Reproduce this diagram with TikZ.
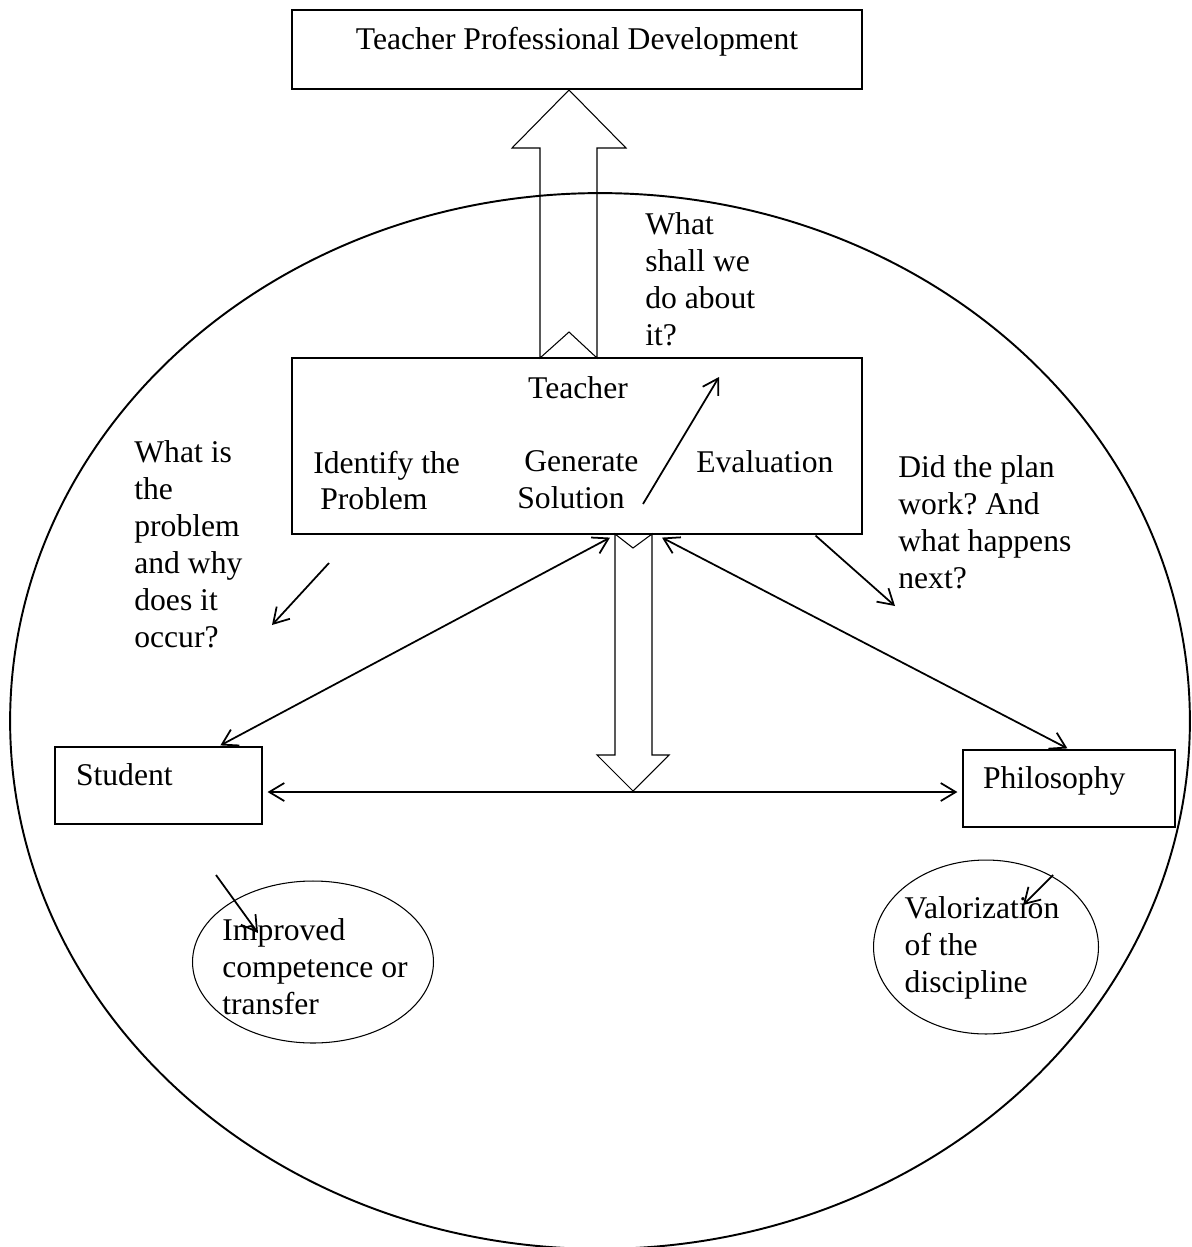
\documentclass[tikz,border=0pt]{standalone}
\usepackage{fontspec}
\setmainfont{Liberation Serif}
\usetikzlibrary{shapes.geometric, arrows.meta, calc}
\frenchspacing

\begin{document}
\begin{tikzpicture}[
  x=0.02cm, y=-0.02cm,
  font=\fontsize{18}{21}\selectfont,
  >={Straight Barb[length=3mm, width=3.6mm]},
  box/.style={rectangle, draw=black, line width=0.7pt, inner sep=0pt},
  labelled/.style={box, text height=12pt, text depth=12pt},
  txt/.style={inner sep=0pt, align=left},
  link/.style={line width=1pt},
  fat/.style={draw=black, line width=0.6pt},
  oval/.style={ellipse, draw=black, line width=0.6pt, inner sep=0pt},
]

\useasboundingbox (0,0) rectangle (1192,1247);

% Outer ring
\node[oval, line width=1.1pt, minimum width=23.6cm, minimum height=21.12cm] (ring) at (600,721) {};

% Top box
\node[labelled, minimum width=11.4cm, minimum height=1.58cm] (tpd) at (577,49.5)
  {Teacher Professional Development};

% Teacher box and its texts
\node[box, minimum width=11.4cm, minimum height=3.52cm] (teacher) at (577,446) {};
\node[anchor=base, inner sep=0pt]    (tlabel)     at (578,398) {Teacher};
\node[txt, anchor=north west]        (identify)   at (313,450.4)
  {Identify the\\\hspace*{0.14cm}Problem};
\node[txt, anchor=north west]        (generate)   at (517,450.4)
  {\hspace*{0.14cm}Generate\\Solution};
\node[anchor=base west, inner sep=0pt] (evaluation) at (696,472) {Evaluation};

% Student and philosophy
\node[labelled, minimum width=4.14cm, minimum height=1.54cm,
      text width=3.30cm, align=left] (student) at (158.5,785.5) {Student};
\node[labelled, minimum width=4.24cm, minimum height=1.54cm,
      text width=3.44cm, align=left] (philo)   at (1069,788.5)  {Philosophy};

% Outcomes
\node[oval, minimum width=4.82cm, minimum height=3.24cm] (impring) at (313,962) {};
\node[txt] (improved) at (315,967) {Improved\\competence or\\transfer};
\node[oval, minimum width=4.5cm, minimum height=3.48cm]  (valring) at (986,947) {};
\node[txt] (valor) at (982,948) {Valorization\\of the\\discipline};

% Questions
\node[txt, anchor=north west] (whatis) at (134,440.4)
  {What is\\the\\problem\\and why\\does it\\occur?};
\node[txt, anchor=north west] (shall)  at (645,212.4)
  {What\\shall we\\do about\\it?};
\node[txt, anchor=north west] (didplan) at (898,455.4)
  {Did the plan\\work? And\\what happens\\next?};

% Block arrows
\draw[fat] (540,358) -- (540,148) -- (512,148) -- (569,90) -- (626,148)
  -- (597,148) -- (597,358) -- (569,332) -- cycle;
\draw[fat] (615,534) -- (615,755) -- (597,755) -- (633,791) -- (669,755)
  -- (652,755) -- (652,534) -- (633,548) -- cycle;

% Links
\draw[link, <->] ($(teacher.south)+(33,3)$) -- ($(student.north west)+(166,-1)$);
\draw[link, <->] ($(teacher.south)+(85,3)$) -- ($(philo.north west)+(105,-1)$);
\coordinate (hl) at ($(student.east)+(5,6.5)$);
\coordinate (hr) at ($(hl -| philo.west)+(-5,0)$);
\draw[link, <->] (hl) -- (hr);

% Small arrows
\coordinate (solve) at (643,504);
\coordinate (act)   at (719,377);
\draw[link, ->] (solve) -- (act);
\coordinate (whyfrom) at (329,563);
\coordinate (whyto)   at (272,625);
\draw[link, ->] (whyfrom) -- (whyto);
\coordinate (nextto) at (895,606);
\draw[link, ->] ($(teacher.south east)+(-47,1)$) -- (nextto);
\coordinate (impfrom) at (216,875);
\coordinate (impto)   at (258,933);
\draw[link, ->] (impfrom) -- (impto);
\coordinate (valfrom) at (1053,875);
\coordinate (valto)   at (1023,905);
\draw[link, ->] (valfrom) -- (valto);

\end{tikzpicture}
\end{document}
